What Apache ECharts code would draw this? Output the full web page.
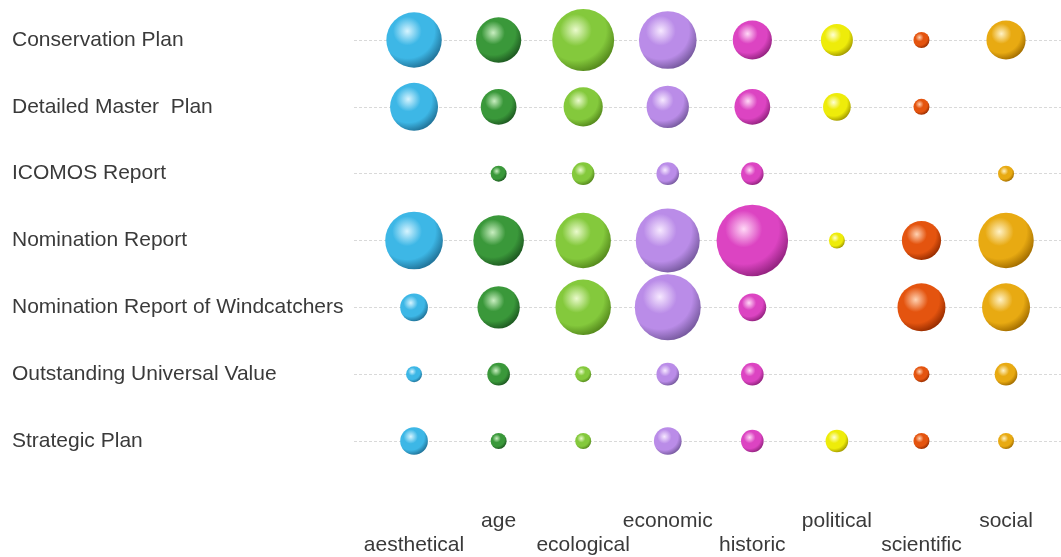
<!DOCTYPE html>
<html><head><meta charset="utf-8">
<script src="https://cdn.jsdelivr.net/npm/echarts@6/dist/echarts.min.js"></script>
<style>html,body{margin:0;padding:0;background:#fff}#c{width:1061px;height:557px}</style>
</head><body><div id="c"></div>
<script>
const documents = ['Conservation Plan','Detailed Master  Plan','ICOMOS Report','Nomination Report','Nomination Report of Windcatchers','Outstanding Universal Value','Strategic Plan'];
const valueTypes = ['aesthetical','age','ecological','economic','historic','political','scientific','social'];
// counts per document, in the order of valueTypes (0 = no bubble)
const conservationPlan = [12,8,15,13,6,4,1,6];
const detailedMasterPlan = [9,5,6,7,5,3,1,0];
const icomosReport = [0,1,2,2,2,0,0,1];
const nominationReport = [13,10,12,16,20,1,6,12];
const nominationReportWindcatchers = [3,7,12,17,3,0,9,9];
const outstandingUniversalValue = [1,2,1,2,2,0,1,2];
const strategicPlan = [3,1,1,3,2,2,1,1];
const rows = [conservationPlan, detailedMasterPlan, icomosReport, nominationReport, nominationReportWindcatchers, outstandingUniversalValue, strategicPlan];

const sphereColors = [
  ['#d6f4ff','#3db7e6','#22769c'],
  ['#c8eec0','#3a983a','#1f5c22'],
  ['#eafacc','#84c93c','#578c1e'],
  ['#f6e8ff','#ba8ce8','#7a5ca2'],
  ['#ffd8f6','#dc44c2','#962482'],
  ['#ffffd4','#eeec0a','#a69e00'],
  ['#ffd2b2','#e4540f','#9a2e00'],
  ['#fff2c6','#e8aa12','#a67000']
];

function sphere(c){
  return {type:'radial', x:0.38, y:0.34, r:0.68, colorStops:[
    {offset:0, color:c[0]},
    {offset:0.38, color:c[1]},
    {offset:0.72, color:c[1]},
    {offset:1, color:c[2]}
  ]};
}

const series = valueTypes.map((name, j) => ({
  name: name,
  type: 'scatter',
  xAxisIndex: 0,
  yAxisIndex: 0,
  data: rows.map((r, i) => [j, i, r[j]]).filter(d => d[2] > 0),
  symbolSize: d => 16 * Math.sqrt(d[2]),
  itemStyle: {color: sphere(sphereColors[j]), opacity: 1},
  emphasis: {disabled: true},
  z: 3
}));

const chart = echarts.init(document.getElementById('c'), null, {renderer:'canvas'});
chart.setOption({
  animation: false,
  backgroundColor: '#ffffff',
  textStyle: {fontFamily: 'Liberation Sans, Arial, sans-serif'},
  grid: [
    {left: 354, right: 0, top: 40, bottom: 116},
    {left: 371.7, right: 12.7, top: 40, bottom: 116}
  ],
  xAxis: [
    {type: 'value', gridIndex: 0, min: -0.71, max: 7.65, show: false},
    {type: 'category', gridIndex: 1, data: valueTypes, position: 'bottom', boundaryGap: true,
     axisLine: {show: false}, axisTick: {show: false}, splitLine: {show: false},
     axisLabel: {interval: 0, fontSize: 21, color: '#3a3a3a', lineHeight: 24, margin: 68,
       formatter: (v, i) => (i % 2 === 0 ? '\n' + v : v)}}
  ],
  yAxis: [
    {type: 'category', gridIndex: 0, data: documents, inverse: true, boundaryGap: false,
     axisLine: {show: false}, axisTick: {show: false},
     splitLine: {show: true, lineStyle: {color: '#d9d9d9', type: [3, 2], width: 1}},
     axisLabel: {align: 'left', margin: 342, fontSize: 21, color: '#3a3a3a', padding: [2, 0, 0, 0]}},
    {type: 'value', gridIndex: 1, show: false}
  ],
  series: series
});
</script>
</body></html>
